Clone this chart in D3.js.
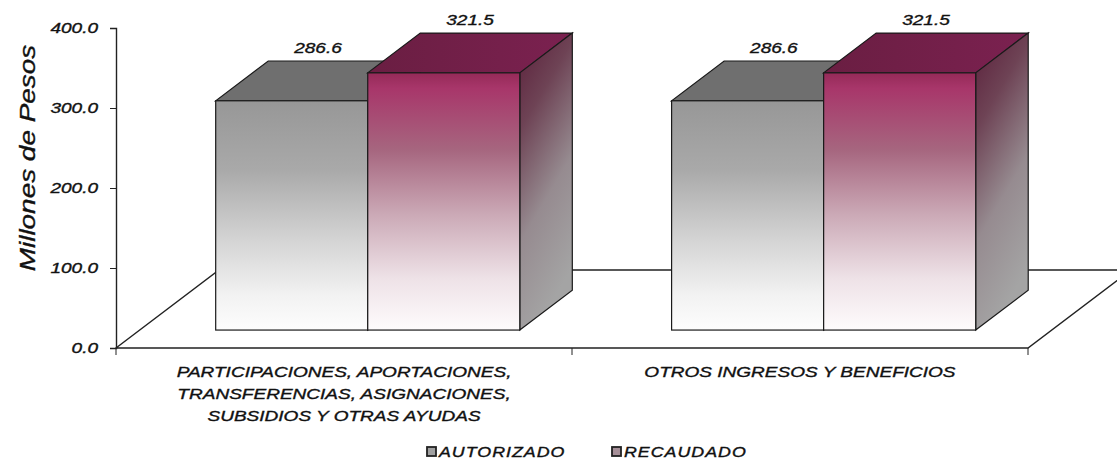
<!DOCTYPE html>
<html lang="es">
<head>
<meta charset="UTF-8">
<title>Millones de Pesos</title>
<script src="https://cdn.jsdelivr.net/npm/d3@7/dist/d3.min.js"></script>
<style>
  body { margin: 0; background: #fff; }
  text { font-family: "Liberation Sans", Arial, sans-serif; font-style: italic; fill: #111; stroke: #111; stroke-width: 0.35px; }
</style>
</head>
<body>
<script>
// data
var categories = [
    ["PARTICIPACIONES, APORTACIONES,", "TRANSFERENCIAS, ASIGNACIONES,", "SUBSIDIOS Y OTRAS AYUDAS"],
    ["OTROS INGRESOS Y BENEFICIOS"]
];
var series = ["AUTORIZADO", "RECAUDADO"];
var autorizado = [286.6, 286.6];
var recaudado = [321.5, 321.5];
var yTicks = [0, 100, 200, 300, 400];
var yTitle = "Millones de Pesos";

var width = 1117, height = 461;
var x0 = 116, x1 = 1028, yBase = 348;
// oblique depth of the floor
var DX = 103, DY = 78;
var d0 = 0.23, d1 = 0.74;   // depth where bars sit
var SX = 1.27;              // the original text is drawn wide

var svg = d3.select("body").append("svg")
    .attr("width", width)
    .attr("height", height);

var defs = svg.append("defs");
function grad(id, stops, x2, y2) {
    var g = defs.append("linearGradient").attr("id", id)
        .attr("x1", 0).attr("y1", 0).attr("x2", x2 || 0).attr("y2", y2 === undefined ? 1 : y2);
    stops.forEach(function(s) {
        g.append("stop").attr("offset", s[0]).attr("stop-color", s[1]);
    });
}
grad("grayFront", [[0, "#979797"], [0.3, "#a9a9a9"], [0.6, "#d3d3d3"], [0.85, "#f2f2f2"], [1, "#fdfdfd"]]);
grad("redFront", [[0, "#952a58"], [0.06, "#a8366a"], [0.3, "#a6667f"], [0.55, "#cba9b6"], [0.8, "#eee2e7"], [1, "#fefbfc"]]);
grad("redSide", [[0, "#5a1f3a"], [0.3, "#6e4355"], [0.65, "#968b90"], [1, "#a4a4a4"]], 0.3, 1);
grad("graySide", [[0, "#6a6a6a"], [1, "#a4a4a4"]]);
grad("redTop", [[0, "#6a1e42"], [1, "#7b2150"]], 1, 0);

var palette = {
    AUTORIZADO: { front: "url(#grayFront)", top: "#6f6f6f", side: "url(#graySide)", key: "#a0a0a0" },
    RECAUDADO: { front: "url(#redFront)", top: "url(#redTop)", side: "url(#redSide)", key: "#a68f98" }
};

var y = d3.scaleLinear().domain([0, 400]).range([yBase, 28]);

var x = d3.scaleBand()
    .domain(d3.range(categories.length))
    .range([x0, x1])
    .paddingInner(0.333)
    .paddingOuter(0.1667);

var xs = d3.scaleBand()
    .domain(series)
    .range([0, x.bandwidth()]);

function wide(px, py, extra) {
    return "translate(" + px + "," + py + ")" + (extra || "") + " scale(" + SX + ",1)";
}

// floor
svg.append("path")
    .attr("d", "M" + x0 + "," + yBase + "L" + x1 + "," + yBase +
        "L" + (x1 + DX) + "," + (yBase - DY) + "L" + (x0 + DX) + "," + (yBase - DY) + "Z")
    .attr("fill", "#fff")
    .attr("stroke", "#222")
    .attr("stroke-width", 1.4);

// y axis
var yAxis = d3.axisLeft(y).tickValues(yTicks).tickSize(6).tickPadding(12)
    .tickFormat(d3.format(".1f"));
var gy = svg.append("g").attr("transform", "translate(" + x0 + ",0)").call(yAxis);
gy.select(".domain").attr("stroke", "#222").attr("stroke-width", 1.4);
gy.selectAll(".tick line").attr("stroke", "#222");
gy.selectAll(".tick text")
    .attr("font-family", null)
    .attr("font-size", null)
    .attr("fill", null)
    .attr("x", -18 / SX)
    .attr("transform", "scale(" + SX + ",1)")
    .style("font-size", "15px");

svg.append("text")
    .attr("transform", wide(35, 158, " rotate(-90)"))
    .attr("text-anchor", "middle")
    .style("font-size", "22px")
    .text(yTitle);

// x axis ticks at category boundaries
var boundaries = x.domain().map(function(i) { return x(i) - x.step() * x.paddingInner() / 2; });
boundaries[0] = x0;
boundaries.push(x1);
svg.selectAll(".xtick").data(boundaries).enter().append("line")
    .attr("x1", function(d) { return d; }).attr("x2", function(d) { return d; })
    .attr("y1", yBase).attr("y2", yBase + 7)
    .attr("stroke", "#222");

// category labels
var cat = svg.selectAll(".cat").data(categories).enter().append("text")
    .attr("transform", function(d, i) { return wide(x(i) + x.bandwidth() / 2, 377); })
    .attr("text-anchor", "middle")
    .style("font-size", "15px");
cat.selectAll("tspan").data(function(d) { return d; }).enter().append("tspan")
    .attr("x", 0)
    .attr("y", function(d, j) { return j * 22; })
    .text(function(d) { return d; });

// bars
function pt(px, py, d) { return [px + DX * d, py - DY * d]; }
var values = { AUTORIZADO: autorizado, RECAUDADO: recaudado };
var bars = [];
categories.forEach(function(c, i) {
    series.forEach(function(s) {
        bars.push({ cat: i, s: s, v: values[s][i] });
    });
});

var line = d3.line();
var gb = svg.selectAll(".bar").data(bars).enter().append("g");
gb.each(function(b) {
    var g = d3.select(this);
    var L = x(b.cat) + xs(b.s), R = L + xs.bandwidth();
    var T = y(b.v), B = y(0);
    var col = palette[b.s];
    // top face
    g.append("path")
        .attr("d", line([pt(L, T, d0), pt(R, T, d0), pt(R, T, d1), pt(L, T, d1)]) + "Z")
        .attr("fill", col.top).attr("stroke", "#1a1a1a").attr("stroke-width", 1.2);
    // side face
    g.append("path")
        .attr("d", line([pt(R, T, d0), pt(R, T, d1), pt(R, B, d1), pt(R, B, d0)]) + "Z")
        .attr("fill", col.side).attr("stroke", "#1a1a1a").attr("stroke-width", 1.2);
    // front face
    var f0 = pt(L, T, d0), f1 = pt(R, B, d0);
    g.append("rect")
        .attr("x", f0[0]).attr("y", f0[1])
        .attr("width", f1[0] - f0[0]).attr("height", f1[1] - f0[1])
        .attr("fill", col.front).attr("stroke", "#1a1a1a").attr("stroke-width", 1.2);
});

// value labels
gb.append("text")
    .attr("transform", function(b) {
        return wide(x(b.cat) + xs(b.s) + xs.bandwidth() / 2 + DX * (d0 + d1) / 2,
            y(b.v) - DY * d1 - 8);
    })
    .attr("text-anchor", "middle")
    .style("font-size", "15px")
    .text(function(b) { return b.v.toFixed(1); });

// legend
var legendX = d3.scalePoint().domain(series).range([427, 612]);
var lg = svg.selectAll(".legend").data(series).enter().append("g")
    .attr("transform", function(d) { return "translate(" + legendX(d) + ",447)"; });
lg.append("rect")
    .attr("width", 9).attr("height", 9)
    .attr("fill", function(d) { return palette[d].key; })
    .attr("stroke", "#222").attr("stroke-width", 1.8);
lg.append("text")
    .attr("transform", wide(12, 10))
    .style("font-size", "14px")
    .style("letter-spacing", "0.8px")
    .text(function(d) { return d; });
</script>
</body>
</html>
